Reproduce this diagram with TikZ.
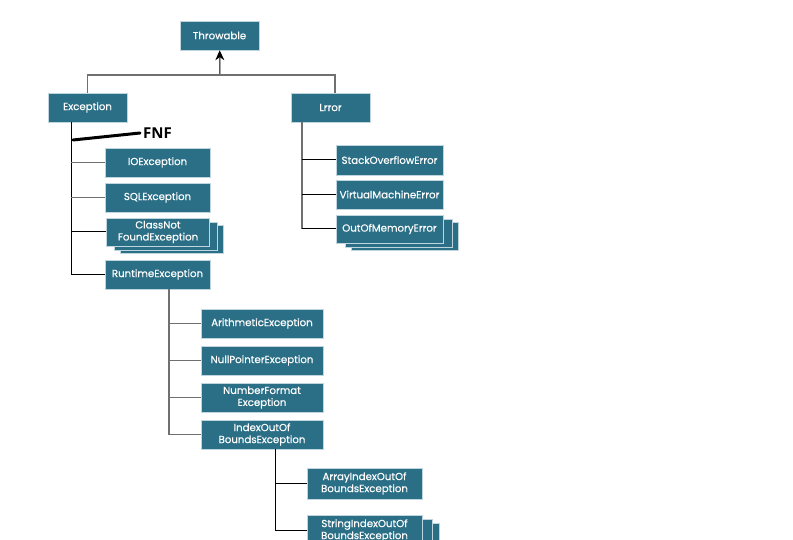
\documentclass[tikz,border=0pt]{standalone}
\usepackage{fontspec}
\usetikzlibrary{arrows.meta}
\newfontfamily\boxfont[FakeBold=0.4]{Poppins}
\newfontfamily\notefont{Open Sans}
\definecolor{boxteal}{HTML}{2B6F86}
\definecolor{boxedge}{HTML}{BFD6DE}
\definecolor{linegray}{HTML}{707070}

\begin{document}
\begin{tikzpicture}[x=1pt, y=-1pt,
  cls/.style={fill=boxteal, draw=boxedge, line width=.6pt, text=white,
    font=\boxfont\fontsize{10.2}{12}\selectfont, align=center, inner sep=0pt,
    minimum height=29pt},
  gline/.style={draw=linegray, line width=1.3pt},
  bline/.style={draw=black, line width=1pt}]
  \clip (0,0) rectangle (793,540);
  \fill[white] (0,0) rectangle (793,540);

  % Top of the hierarchy
  \node[cls, minimum width=79pt] (throwable) at (219.5,35.5) {Throwable};
  \node[cls, minimum width=79pt] (exception) at (87.5,107.5) {Exception};
  \node[cls, minimum width=79pt] (lrror) at (330.5,107.5) {Lrror};

  % Exception subclasses
  \node[cls, minimum width=105pt] (ioexc) at (157.5,162.5) {IOException};
  \node[cls, minimum width=105pt] (sqlexc) at (157.5,197.5) {SQLException};
  \foreach \dx/\dy in {14/7, 8/4}
    \node[cls, minimum width=103pt, minimum height=28pt] at (158+\dx,232+\dy) {};
  \node[cls, minimum width=103pt, minimum height=28pt] (cnfexc) at (158,232) {ClassNot\\FoundException};
  \node[cls, minimum width=105pt] (rtexc) at (157.5,274.5) {RuntimeException};

  % Error subclasses
  \node[cls, minimum width=107pt, minimum height=30pt] (soerr) at (389.5,160) {StackOverflowError};
  \node[cls, minimum width=107pt] (vmerr) at (389.5,194.5) {VirtualMachineError};
  \foreach \dx/\dy in {15/7, 9/4}
    \node[cls, minimum width=107pt, minimum height=28pt] at (389.5+\dx,229+\dy) {};
  \node[cls, minimum width=107pt, minimum height=28pt] (oomerr) at (389.5,229) {OutOfMemoryError};

  % RuntimeException subclasses
  \node[cls, minimum width=122pt] (arexc) at (262,323.5) {ArithmeticException};
  \node[cls, minimum width=122pt] (npexc) at (262,360.5) {NullPointerException};
  \node[cls, minimum width=122pt] (nfexc) at (262,397.5) {NumberFormat\\Exception};
  \node[cls, minimum width=122pt] (ioobexc) at (262,434.5) {IndexOutOf\\BoundsException};

  % IndexOutOfBoundsException subclasses
  \node[cls, minimum width=115pt, minimum height=31pt] (aioobexc) at (364.5,483.5) {ArrayIndexOutOf\\BoundsException};
  \foreach \dx/\dy in {17/8, 10/4}
    \node[cls, minimum width=115pt, minimum height=31pt] at (364.5+\dx,530.5+\dy) {};
  \node[cls, minimum width=115pt, minimum height=31pt] (sioobexc) at (364.5,530.5) {StringIndexOutOf\\BoundsException};

  % Links to Throwable
  \coordinate (join) at (220,75);
  \draw[-{Stealth[length=10pt,width=9pt]}, line width=1pt] (join) -- (throwable);
  \draw[gline] (exception.north) |- (join) -| ([xshift=4.5pt]lrror.north);

  % Exception tree
  \coordinate (etrunk) at ([xshift=-16.5pt]exception.south);
  \draw[bline] (etrunk) |- (rtexc.west);
  \foreach \c in {ioexc, sqlexc}
    \draw[gline] (\c.west) -- (\c.west -| etrunk);
  \draw[bline] (cnfexc.west) -- (cnfexc.west -| etrunk);

  % Error tree
  \coordinate (ltrunk) at ([xshift=-28.5pt]lrror.south);
  \draw[gline] (ltrunk) -- (ltrunk |- oomerr.west);
  \foreach \c in {soerr, vmerr, oomerr}
    \draw[bline] (\c.west) -- (\c.west -| ltrunk);

  % RuntimeException tree
  \coordinate (rtrunk) at ([xshift=11.5pt]rtexc.south);
  \draw[gline] (rtrunk) |- (ioobexc.west);
  \foreach \c in {arexc, npexc, nfexc}
    \draw[gline] (\c.west) -- (\c.west -| rtrunk);

  % IndexOutOfBoundsException tree
  \coordinate (itrunk) at ([xshift=13pt]ioobexc.south);
  \draw[bline] (itrunk) |- (sioobexc.west);
  \draw[bline] (aioobexc.west) -- (aioobexc.west -| itrunk);

  % Note
  \node[font=\notefont\bfseries\fontsize{15}{15}\selectfont, anchor=west, inner sep=0pt] (fnf) at (143,133) {FNF};
  \draw[line width=3pt, line cap=round] (73,140) -- ([xshift=-3pt]fnf.west);
\end{tikzpicture}
\end{document}
